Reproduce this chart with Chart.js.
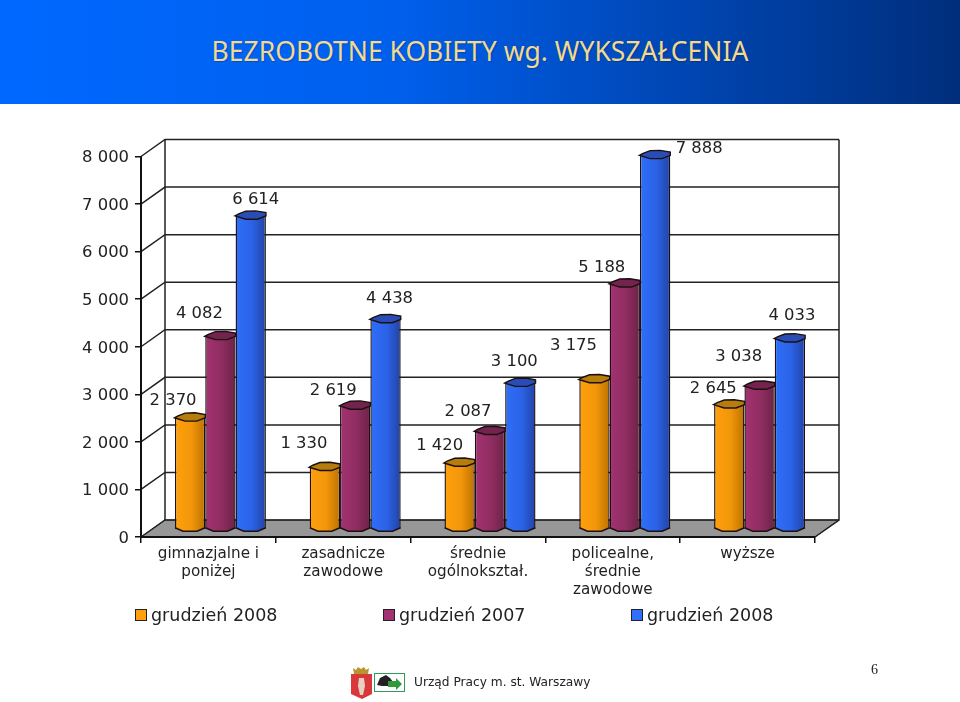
<!DOCTYPE html>
<html lang="pl">
<head>
<meta charset="utf-8">
<title>Bezrobotne kobiety wg. wykształcenia</title>
<style>
  html, body { margin: 0; padding: 0; background: #fff; overflow: hidden; }
  #page { position: relative; width: 960px; height: 702px; font-family: "DejaVu Sans", sans-serif; color: #222; }
  #band { position: absolute; left: 0; top: 0; width: 960px; height: 104px; text-align: center;
    background: linear-gradient(90deg, #0068ff 0%, #0060ee 40%, #002e7c 100%);
    font: 26.5px/102px "Noto Sans", sans-serif; color: #f3d98e; text-shadow: 1px 1px 1px rgba(0, 0, 40, 0.2); }
  #chart { position: absolute; left: 0; top: 0; }
  #legend { position: absolute; left: 135px; top: 604px; display: flex; font-size: 17.5px; line-height: 22px; }
  #legend div { width: 248px; white-space: nowrap; }
  #legend i { display: inline-block; width: 10px; height: 10px; margin-right: 4px; border: 1px solid #222; }
  #logo { position: absolute; left: 350px; top: 666px; }
  #office { position: absolute; left: 414px; top: 674px; font-size: 12.2px; line-height: 16px; }
  #pageno { position: absolute; left: 871px; top: 662px; font: 14px "Liberation Serif", serif; }
</style>
</head>
<body>
<div id="page">
  <div id="band"></div>
  <canvas id="chart" width="960" height="702"></canvas>
  <div id="legend"></div>
  <svg id="logo" width="58" height="34" viewBox="0 0 58 34">
    <path d="M1 8h21v20l-10 5-11-5z" fill="#d9383a"/>
    <path d="M9 12h5l1 8-2 9h-3l-2-9z" fill="#e8cfc0"/>
    <path d="M4 8l-1-6 3 2 2-3 3 2 3-2 2 3 3-2-1 6z" fill="#b8952e"/>
    <rect x="24.5" y="7.5" width="30" height="18" fill="#fff" stroke="#2f9a5c"/>
    <path d="M27 19l3-7 6-3 4 3 3 4-3 4-8 0z" fill="#222"/>
    <path d="M38 15h8v-3l6 6-6 6v-3h-8z" fill="#2f9a3c"/>
  </svg>
  <div id="office">Urząd Pracy m. st. Warszawy</div>
  <div id="pageno">6</div>
</div>

<script src="https://cdn.jsdelivr.net/npm/chart.js@4/dist/chart.umd.min.js"></script>
<script>
'use strict';

const chartTitle = 'BEZROBOTNE KOBIETY wg. WYKSZAŁCENIA';
const categories = [
  ['gimnazjalne i', 'poniżej'],
  ['zasadnicze', 'zawodowe'],
  ['średnie', 'ogólnokształ.'],
  ['policealne,', 'średnie', 'zawodowe'],
  'wyższe',
];
const seriesNames = ['grudzień 2008', 'grudzień 2007', 'grudzień 2008'];
const seriesA = [2370, 1330, 1420, 3175, 2645];
const seriesB = [4082, 2619, 2087, 5188, 3038];
const seriesC = [6614, 4438, 3100, 7888, 4033];

const axisMax = 8000;
const axisStep = 1000;

// left, middle, right of the fake cylinder, then the colour of its lid
const seriesColors = [
  ['#ffa00c', '#f2960a', '#bb7200', '#b67c0c'],
  ['#a33272', '#8f2d60', '#6b2347', '#74234e'],
  ['#2f6ff9', '#2b62e6', '#2243a6', '#2a4db5'],
];

// the original labels were moved by hand, so each one has its own nudge from its bar
const labelNudge = [
  [[-17, -16], [-21, -22], [5, -15]],
  [[-21, -22], [-22, -14], [4, -20]],
  [[-20, -16], [-22, -18], [-6, -20]],
  [[-21, -33], [-23, -15], [44, -6]],
  [[-16, -15], [-21, -28], [2, -22]],
];

const depthX = 24;
const depthY = -17;
const barShiftX = 12;
const barShiftY = -7.5;
const groupShare = 0.675;
const tickFont = { family: 'DejaVu Sans', size: 16.4 };

function formatValue(value) {
  return String(value).replace(/\B(?=(\d{3})+$)/g, ' ');
}

function barFill(context) {
  const stops = seriesColors[context.datasetIndex];
  if (context.type !== 'data') {
    return stops[0];
  }
  const xScale = context.chart.scales.x;
  const width = xScale.width / categories.length * groupShare / 3;
  const center = xScale.getPixelForValue(context.dataIndex) + (context.datasetIndex - 1) * width;
  // the scale has no pixels yet on the first pass
  if (!Number.isFinite(center) || !Number.isFinite(width)) {
    return stops[0];
  }
  const gradient = context.chart.ctx.createLinearGradient(center - width / 2, 0, center + width / 2, 0);
  gradient.addColorStop(0, stops[0]);
  gradient.addColorStop(0.55, stops[1]);
  gradient.addColorStop(1, stops[2]);
  return gradient;
}

function tracePolygon(ctx, originX, originY, points, close) {
  ctx.beginPath();
  points.forEach(([x, y], i) => {
    if (i === 0) {
      ctx.moveTo(originX + x, originY + y);
    } else {
      ctx.lineTo(originX + x, originY + y);
    }
  });
  if (close) {
    ctx.closePath();
  }
}

const lidShape = [[-15.7, 1], [-5, 4.3], [6.7, 4.3], [15.2, 1], [15.2, -2.3], [5, -4], [-5, -3.7], [-12, -1]];
const footShape = [[-15, -1], [-7, 2.5], [7, 2.5], [15, -1]];

const wallsPlugin = {
  id: 'walls',
  afterLayout(chart) {
    // the slide's axis numbers sit a little under their ticks
    chart.scales.y.getLabelItems().forEach(item => {
      item.options.translation[1] += 1.6;
    });
  },
  beforeDraw(chart) {
    const { ctx, chartArea: area, scales: { y } } = chart;
    ctx.save();

    ctx.fillStyle = '#979797';
    tracePolygon(ctx, area.left, area.bottom, [
      [0, 0], [depthX, depthY], [area.width + depthX, depthY], [area.width, 0],
    ], true);
    ctx.fill();
    ctx.strokeStyle = '#333';
    ctx.lineWidth = 1;
    ctx.stroke();

    ctx.strokeStyle = '#222';
    ctx.lineWidth = 1.5;
    y.ticks.forEach(tick => {
      const py = y.getPixelForValue(tick.value);
      ctx.beginPath();
      ctx.moveTo(area.left, py);
      ctx.lineTo(area.left + depthX, py + depthY);
      ctx.lineTo(area.right + depthX, py + depthY);
      ctx.stroke();
    });

    ctx.beginPath();
    ctx.moveTo(area.left + depthX, area.bottom + depthY);
    ctx.lineTo(area.left + depthX, area.top + depthY);
    ctx.moveTo(area.right + depthX, area.top + depthY);
    ctx.lineTo(area.right + depthX, area.bottom + depthY);
    ctx.lineTo(area.right, area.bottom);
    ctx.stroke();

    ctx.restore();
  },
  beforeDatasetsDraw(chart) {
    chart.ctx.save();
    chart.ctx.translate(barShiftX, barShiftY);
  },
  afterDatasetsDraw(chart) {
    const ctx = chart.ctx;
    ctx.strokeStyle = '#1c1010';
    ctx.lineWidth = 1.4;
    chart.data.datasets.forEach((dataset, d) => {
      chart.getDatasetMeta(d).data.forEach(bar => {
        ctx.fillStyle = bar.options.backgroundColor;
        tracePolygon(ctx, bar.x, bar.base, footShape, false);
        ctx.fill();
        ctx.stroke();
        ctx.fillStyle = seriesColors[d][3];
        tracePolygon(ctx, bar.x, bar.y, lidShape, true);
        ctx.fill();
        ctx.stroke();
      });
    });

    ctx.fillStyle = '#222';
    ctx.font = `${tickFont.size}px "${tickFont.family}"`;
    ctx.textAlign = 'center';
    ctx.textBaseline = 'middle';
    chart.data.datasets.forEach((dataset, d) => {
      chart.getDatasetMeta(d).data.forEach((bar, i) => {
        const [dx, dy] = labelNudge[i][d];
        ctx.fillText(formatValue(dataset.data[i]), bar.x + dx, bar.y + dy);
      });
    });
    ctx.restore();
  },
};

function buildLegend(chart) {
  const legend = document.getElementById('legend');
  chart.data.datasets.forEach((dataset, d) => {
    const item = document.createElement('div');
    const swatch = document.createElement('i');
    swatch.style.background = seriesColors[d][0];
    item.appendChild(swatch);
    item.appendChild(document.createTextNode(dataset.label));
    legend.appendChild(item);
  });
}

function makeDataset(label, data) {
  return {
    label,
    data,
    backgroundColor: barFill,
    borderColor: '#1c1010',
    borderWidth: 1.4,
    borderSkipped: 'bottom',
    categoryPercentage: groupShare,
    barPercentage: 1,
  };
}

const chart = new Chart(document.getElementById('chart').getContext('2d'), {
  type: 'bar',
  data: {
    labels: categories,
    datasets: [
      makeDataset(seriesNames[0], seriesA),
      makeDataset(seriesNames[1], seriesB),
      makeDataset(seriesNames[2], seriesC),
    ],
  },
  options: {
    responsive: false,
    animation: false,
    clip: false,
    layout: { padding: { left: 0, right: 145, top: 156.5, bottom: 0 } },
    plugins: {
      legend: { display: false },
      tooltip: { enabled: false },
    },
    scales: {
      x: {
        afterFit(scale) {
          scale.height = 165;
        },
        grid: { offset: true, drawOnChartArea: false, color: '#111', lineWidth: 1.5, tickLength: 6 },
        border: { color: '#111', width: 2 },
        ticks: {
          color: '#222',
          font: { family: 'DejaVu Sans', size: 15.2, lineHeight: 1.184 },
          padding: 2.5,
          maxRotation: 0,
          autoSkip: false,
        },
      },
      y: {
        min: 0,
        max: axisMax,
        afterFit(scale) {
          scale.width = 141;
        },
        grid: { drawOnChartArea: false, color: '#111', lineWidth: 1.5, tickLength: 6 },
        border: { color: '#111', width: 2 },
        ticks: {
          stepSize: axisStep,
          color: '#222',
          font: tickFont,
          padding: 6,
          callback: formatValue,
        },
      },
    },
  },
  plugins: [wallsPlugin],
});

document.getElementById('band').textContent = chartTitle;
buildLegend(chart);
</script>
</body>
</html>
